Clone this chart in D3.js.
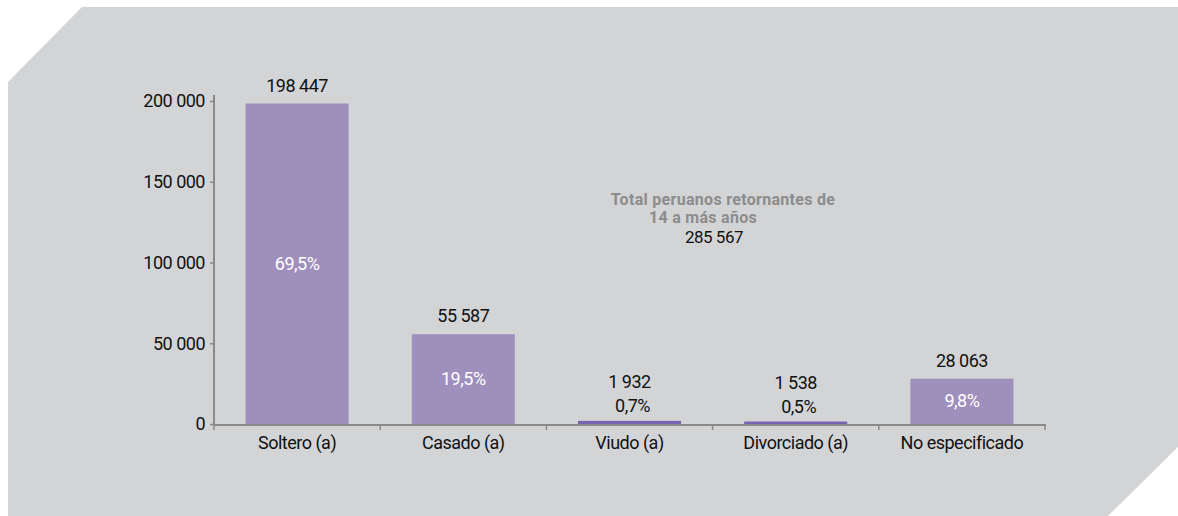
<!DOCTYPE html>
<html>
<head>
<meta charset="utf-8">
<script src="https://cdn.jsdelivr.net/npm/d3@7/dist/d3.min.js"></script>
<style>
  html, body { margin: 0; padding: 0; background: #ffffff; }
  svg { display: block; }
  text { font-family: "Liberation Sans Narrow", "Roboto", sans-serif; }
  .reg { letter-spacing: -0.5px; }
  .ttl { letter-spacing: 0.3px; }
</style>
</head>
<body>
<svg id="chart" width="1178" height="516"></svg>
<script>
const categories = ["Soltero (a)", "Casado (a)", "Viudo (a)", "Divorciado (a)", "No especificado"];
const values = [198447, 55587, 1932, 1538, 28063];
const valueLabels = ["198 447", "55 587", "1 932", "1 538", "28 063"];
const percentLabels = ["69,5%", "19,5%", "0,7%", "0,5%", "9,8%"];
const yTicks = [0, 50000, 100000, 150000, 200000];
const yTickLabels = ["0", "50 000", "100 000", "150 000", "200 000"];
const totalTitle = ["Total peruanos retornantes de", "14 a más años"];
const totalValue = "285 567";

const W = 1178, H = 516;
const svg = d3.select("#chart");

// background panel with cut corners
svg.append("path")
  .attr("d", `M8,82 L82,7 L${W},7 L${W},447 L1108,${H} L8,${H} Z`)
  .attr("fill", "#d3d4d6");

const m = { left: 214, right: 1045, top: 101, bottom: 424 };
const x = d3.scaleBand().domain(categories).range([m.left, m.right]).paddingInner(0.38).paddingOuter(0.19);
const y = d3.scaleLinear().domain([0, 200000]).range([m.bottom, m.top]);

const axisColor = "#8a8a8a";

// bars
svg.selectAll("rect.bar").data(values).enter().append("rect")
  .attr("class", "bar")
  .attr("x", (d, i) => x(categories[i]))
  .attr("width", x.bandwidth())
  .attr("y", d => y(d))
  .attr("height", d => y(0) - y(d))
  .attr("fill", (d) => (y(0) - y(d)) < 5 ? "#7a63b0" : "#9f8fbc");

// y axis
const yAxis = d3.axisLeft(y).tickValues(yTicks).tickSize(4).tickPadding(5)
  .tickFormat((d, i) => yTickLabels[i]);
const gy = svg.append("g").attr("transform", `translate(${m.left},0)`).call(yAxis);
gy.select(".domain").attr("d", `M0,${m.top - 6}V${m.bottom}`).attr("stroke", axisColor).attr("stroke-width", 2);
gy.selectAll(".tick line").attr("stroke", axisColor).attr("stroke-width", 1.5);
gy.selectAll(".tick text").attr("class", "reg").attr("fill", "#111").style("font-size", "18px")
  .style("font-family", "'Liberation Sans Narrow', Roboto, sans-serif");

// x axis line with boundary ticks
svg.append("line").attr("x1", m.left - 1).attr("x2", m.right + 1)
  .attr("y1", m.bottom + 1).attr("y2", m.bottom + 1)
  .attr("stroke", axisColor).attr("stroke-width", 2);
const bounds = d3.range(categories.length + 1).map(i => m.left + i * (m.right - m.left) / categories.length);
svg.selectAll("line.xt").data(bounds).enter().append("line")
  .attr("x1", d => d).attr("x2", d => d)
  .attr("y1", m.bottom + 1).attr("y2", m.bottom + 6)
  .attr("stroke", axisColor).attr("stroke-width", 1.5);

// category labels
svg.selectAll("text.cat").data(categories).enter().append("text")
  .attr("class", "reg")
  .attr("x", d => x(d) + x.bandwidth() / 2)
  .attr("y", m.bottom + 25)
  .attr("text-anchor", "middle")
  .attr("fill", "#111")
  .style("font-size", "18px")
  .text(d => d);

// labels
values.forEach((v, i) => {
  const cx = x(categories[i]) + x.bandwidth() / 2;
  const top = y(v);
  const h = y(0) - top;
  if (h > 20) {
    svg.append("text").attr("class", "reg").attr("x", cx).attr("y", top - 12)
      .attr("text-anchor", "middle").attr("fill", "#111").style("font-size", "18px")
      .text(valueLabels[i]);
    svg.append("text").attr("class", "reg").attr("x", cx).attr("y", top + h / 2 + 6)
      .attr("text-anchor", "middle").attr("fill", "#ffffff").style("font-size", "18px")
      .text(percentLabels[i]);
  } else {
    svg.append("text").attr("class", "reg").attr("x", cx).attr("y", top - 33)
      .attr("text-anchor", "middle").attr("fill", "#111").style("font-size", "18px")
      .text(valueLabels[i]);
    svg.append("text").attr("class", "reg").attr("x", cx + 3).attr("y", top - 9)
      .attr("text-anchor", "middle").attr("fill", "#111").style("font-size", "18px")
      .text(percentLabels[i]);
  }
});

// total annotation
svg.append("text").attr("class", "ttl").attr("x", 723).attr("y", 205).attr("text-anchor", "middle")
  .attr("fill", "#8c8c8c").style("font-size", "16px").style("font-weight", "bold")
  .text(totalTitle[0]);
svg.append("text").attr("class", "ttl").attr("x", 703).attr("y", 223).attr("text-anchor", "middle")
  .attr("fill", "#8c8c8c").style("font-size", "16px").style("font-weight", "bold")
  .text(totalTitle[1]);
svg.append("text").attr("class", "reg").attr("x", 714).attr("y", 243).attr("text-anchor", "middle")
  .attr("fill", "#111").style("font-size", "17px")
  .text(totalValue);
</script>
</body>
</html>
